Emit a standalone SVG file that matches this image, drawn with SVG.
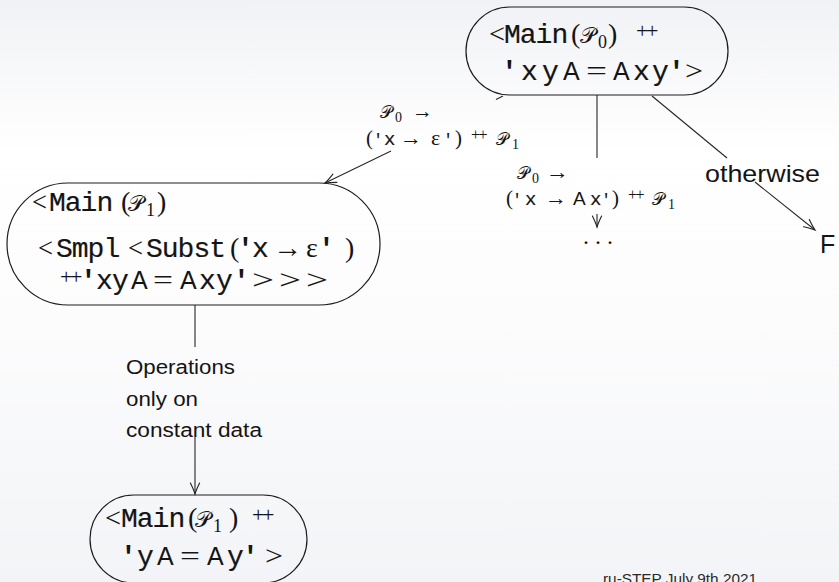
<svg xmlns="http://www.w3.org/2000/svg" width="839" height="582" viewBox="0 0 839 582">
  <defs>
    <linearGradient id="bg" x1="0" y1="0" x2="0" y2="1">
      <stop offset="0" stop-color="#f1f2f5"/>
      <stop offset="0.26" stop-color="#ffffff"/>
      <stop offset="0.55" stop-color="#fcfcfd"/>
      <stop offset="1" stop-color="#f3f4f7"/>
    </linearGradient>
    <marker id="to" markerUnits="userSpaceOnUse" markerWidth="14" markerHeight="12" viewBox="-12 -6 14 12" refX="0" refY="0" orient="auto" overflow="visible">
      <path d="M-11,-4.6 Q-4,-1.2 0,0 Q-4,1.2 -11,4.6" fill="none" stroke="#222" stroke-width="1.1" stroke-linecap="round"/>
    </marker>
    <style>
      text { fill: #141414; }
      .node rect { fill: none; stroke: #1c1c1c; stroke-width: 1.2; }
      .tt { font-family: "Liberation Mono", monospace; font-size: 28px; letter-spacing: -1px; stroke: #141414; stroke-width: 0.2px; }
      .q { font-family: "Liberation Mono", monospace; font-size: 28px; font-weight: bold; }
      .m { font-family: "Liberation Serif", serif; font-size: 28px; }
      .par { font-family: "Liberation Serif", serif; font-size: 28px; }
      .cal { font-family: "DejaVu Serif", "Noto Sans", serif; font-size: 22px; }
      .sub { font-family: "Liberation Serif", serif; font-size: 18px; }
      .pp { font-family: "Liberation Serif", serif; font-size: 22px; letter-spacing: -2.5px; }
      .sf { font-family: "Liberation Sans", sans-serif; font-size: 25px; }
      .dot { font-family: "Liberation Serif", serif; font-size: 24px; }
      .lbl .tt { font-size: 19px; letter-spacing: 0; stroke-width: 0.15px; }
      .lbl .q { font-size: 17px; font-weight: normal; }
      .lbl .m { font-size: 22px; }
      .lbl .par { font-size: 21px; }
      .lbl .cal { font-size: 17px; }
      .lbl .sub { font-size: 14px; }
      .lbl .pp { font-size: 16px; letter-spacing: -1.5px; }
      .lbl .sf { font-size: 19px; }
      .txt { font-family: "Liberation Sans", sans-serif; font-size: 20px; }
      .big { font-family: "Liberation Sans", sans-serif; font-size: 24px; }
      .fail { font-family: "Liberation Sans", sans-serif; font-size: 25px; }
      .foot { font-family: "Liberation Sans", sans-serif; font-size: 15px; fill: #2a2a2a; }
      .edge { fill: none; stroke: #262626; stroke-width: 1.1; }
    </style>
  </defs>

  <rect x="0" y="0" width="839" height="582" fill="url(#bg)"/>

  <!-- connectors, each broken where its label sits -->
  <g id="connectors">
    <path class="edge" d="M503,96 L496,99.5"/>
    <line class="edge" x1="391" y1="151" x2="325" y2="183" marker-end="url(#to)"/>
    <line class="edge" x1="597" y1="95" x2="597" y2="158"/>
    <line class="edge" x1="597" y1="214" x2="597" y2="227" marker-end="url(#to)"/>
    <line class="edge" x1="652" y1="96" x2="727" y2="158"/>
    <line class="edge" x1="755" y1="182" x2="815" y2="230" marker-end="url(#to)"/>
    <line class="edge" x1="195" y1="305" x2="195" y2="347"/>
    <line class="edge" x1="195" y1="437" x2="195" y2="494" marker-end="url(#to)"/>
  </g>

  <!-- edge labels -->
  <g id="edge-labels" class="lbl">
    <g id="label-erase-x">
      <text class="cal" x="380" y="118">𝒫</text>
      <text class="sub" x="395" y="122">0</text>
      <text class="m" x="412" y="118" textLength="21" lengthAdjust="spacingAndGlyphs">→</text>
      <text class="par" x="366" y="145">(</text>
      <text class="q" x="373" y="145">'</text>
      <text class="tt" x="384" y="145">x</text>
      <text class="m" x="400" y="145" textLength="22" lengthAdjust="spacingAndGlyphs">→</text>
      <text class="m" x="431" y="145">ε</text>
      <text class="q" x="443" y="145">'</text>
      <text class="par" x="455" y="145">)</text>
      <text class="pp" x="471" y="140">++</text>
      <text class="cal" x="496" y="145">𝒫</text>
      <text class="sub" x="512" y="149">1</text>
    </g>
    <g id="label-move-x">
      <text class="cal" x="517" y="179">𝒫</text>
      <text class="sub" x="532" y="183">0</text>
      <text class="m" x="546" y="179" textLength="23" lengthAdjust="spacingAndGlyphs">→</text>
      <text class="par" x="506" y="205">(</text>
      <text class="q" x="512" y="205">'</text>
      <text class="tt" x="525" y="205">x</text>
      <text class="m" x="545" y="205" textLength="22" lengthAdjust="spacingAndGlyphs">→</text>
      <text class="sf" x="573" y="205">A</text>
      <text class="tt" x="590" y="205">x</text>
      <text class="q" x="601" y="205">'</text>
      <text class="par" x="612" y="205">)</text>
      <text class="pp" x="628" y="200">++</text>
      <text class="cal" x="652" y="205">𝒫</text>
      <text class="sub" x="668" y="209">1</text>
    </g>
    <g id="label-otherwise">
      <text class="big" x="705" y="182" textLength="115" lengthAdjust="spacingAndGlyphs">otherwise</text>
    </g>
    <g id="label-constant">
      <text class="txt" x="126" y="374" textLength="109" lengthAdjust="spacingAndGlyphs">Operations</text>
      <text class="txt" x="126" y="406" textLength="72" lengthAdjust="spacingAndGlyphs">only on</text>
      <text class="txt" x="126" y="437" textLength="136" lengthAdjust="spacingAndGlyphs">constant data</text>
    </g>
  </g>

  <!-- <Main(P0) ++ 'xyA = Axy'> -->
  <g id="node-main-p0" class="node">
    <rect x="466" y="7" width="262" height="88" rx="44" ry="44"/>
    <text class="m" x="489" y="43" textLength="16" lengthAdjust="spacingAndGlyphs">&lt;</text>
    <text class="tt" x="504" y="43">Main</text>
    <text class="par" x="571" y="43">(</text>
    <text class="cal" x="580" y="43">𝒫</text>
    <text class="sub" x="598" y="48">0</text>
    <text class="par" x="608" y="43">)</text>
    <text class="pp" x="636" y="38">++</text>
    <text class="q" x="501" y="80">'</text>
    <text class="tt" x="521" y="80">x</text>
    <text class="tt" x="542" y="80">y</text>
    <text class="sf" x="563" y="80">A</text>
    <text class="m" x="586" y="80" textLength="21" lengthAdjust="spacingAndGlyphs">=</text>
    <text class="sf" x="613" y="80">A</text>
    <text class="tt" x="633" y="80">x</text>
    <text class="tt" x="652" y="80">y</text>
    <text class="q" x="668" y="80">'</text>
    <text class="m" x="685" y="80" textLength="18" lengthAdjust="spacingAndGlyphs">&gt;</text>
  </g>

  <!-- <Main(P1) <Smpl <Subst('x -> eps') ++ 'xyA = Axy'>>> -->
  <g id="node-main-p1" class="node">
    <rect x="7" y="183" width="373" height="122" rx="61" ry="61"/>
    <text class="m" x="32" y="211" textLength="15" lengthAdjust="spacingAndGlyphs">&lt;</text>
    <text class="tt" x="49" y="211">Main</text>
    <text class="par" x="121" y="211">(</text>
    <text class="cal" x="128" y="211">𝒫</text>
    <text class="sub" x="146" y="216">1</text>
    <text class="par" x="157" y="211">)</text>
    <text class="m" x="38" y="257" textLength="15" lengthAdjust="spacingAndGlyphs">&lt;</text>
    <text class="tt" x="56" y="257">Smpl</text>
    <text class="m" x="128" y="257" textLength="15" lengthAdjust="spacingAndGlyphs">&lt;</text>
    <text class="tt" x="146" y="257">Subst</text>
    <text class="par" x="230" y="257">(</text>
    <text class="q" x="237" y="257">'</text>
    <text class="tt" x="252" y="257">x</text>
    <text class="m" x="273" y="257" textLength="29" lengthAdjust="spacingAndGlyphs">→</text>
    <text class="m" x="306" y="257">ε</text>
    <text class="q" x="318" y="257">'</text>
    <text class="par" x="345" y="257">)</text>
    <text class="pp" x="60" y="284">++</text>
    <text class="q" x="80" y="289">'</text>
    <text class="tt" x="96" y="289">x</text>
    <text class="tt" x="112" y="289">y</text>
    <text class="sf" x="131" y="289">A</text>
    <text class="m" x="153" y="289" textLength="20" lengthAdjust="spacingAndGlyphs">=</text>
    <text class="sf" x="180" y="289">A</text>
    <text class="tt" x="199" y="289">x</text>
    <text class="tt" x="216" y="289">y</text>
    <text class="q" x="233" y="289">'</text>
    <text class="m" x="252" y="289" textLength="22" lengthAdjust="spacingAndGlyphs">&gt;</text>
    <text class="m" x="279" y="289" textLength="22" lengthAdjust="spacingAndGlyphs">&gt;</text>
    <text class="m" x="306" y="289" textLength="22" lengthAdjust="spacingAndGlyphs">&gt;</text>
  </g>

  <!-- <Main(P1) ++ 'yA = Ay'> -->
  <g id="node-main-p1-final" class="node">
    <rect x="90" y="495" width="217" height="88" rx="44" ry="44"/>
    <text class="m" x="105" y="527" textLength="16" lengthAdjust="spacingAndGlyphs">&lt;</text>
    <text class="tt" x="121" y="527">Main</text>
    <text class="par" x="188" y="527">(</text>
    <text class="cal" x="195" y="527">𝒫</text>
    <text class="sub" x="213" y="532">1</text>
    <text class="par" x="229" y="527">)</text>
    <text class="pp" x="252" y="522">++</text>
    <text class="q" x="120" y="565">'</text>
    <text class="tt" x="137" y="565">y</text>
    <text class="sf" x="157" y="565">A</text>
    <text class="m" x="180" y="565" textLength="20" lengthAdjust="spacingAndGlyphs">=</text>
    <text class="sf" x="207" y="565">A</text>
    <text class="tt" x="227" y="565">y</text>
    <text class="q" x="242" y="565">'</text>
    <text class="m" x="265" y="565" textLength="18" lengthAdjust="spacingAndGlyphs">&gt;</text>
  </g>

  <g id="node-more">
    <text class="dot" x="583" y="244">.</text>
    <text class="dot" x="595" y="244">.</text>
    <text class="dot" x="607" y="244">.</text>
  </g>

  <g id="node-fail">
    <text class="fail" x="820" y="253">F</text>
  </g>

  <text class="foot" x="603" y="584" textLength="154" lengthAdjust="spacingAndGlyphs">ru-STEP July 9th 2021</text>
</svg>
